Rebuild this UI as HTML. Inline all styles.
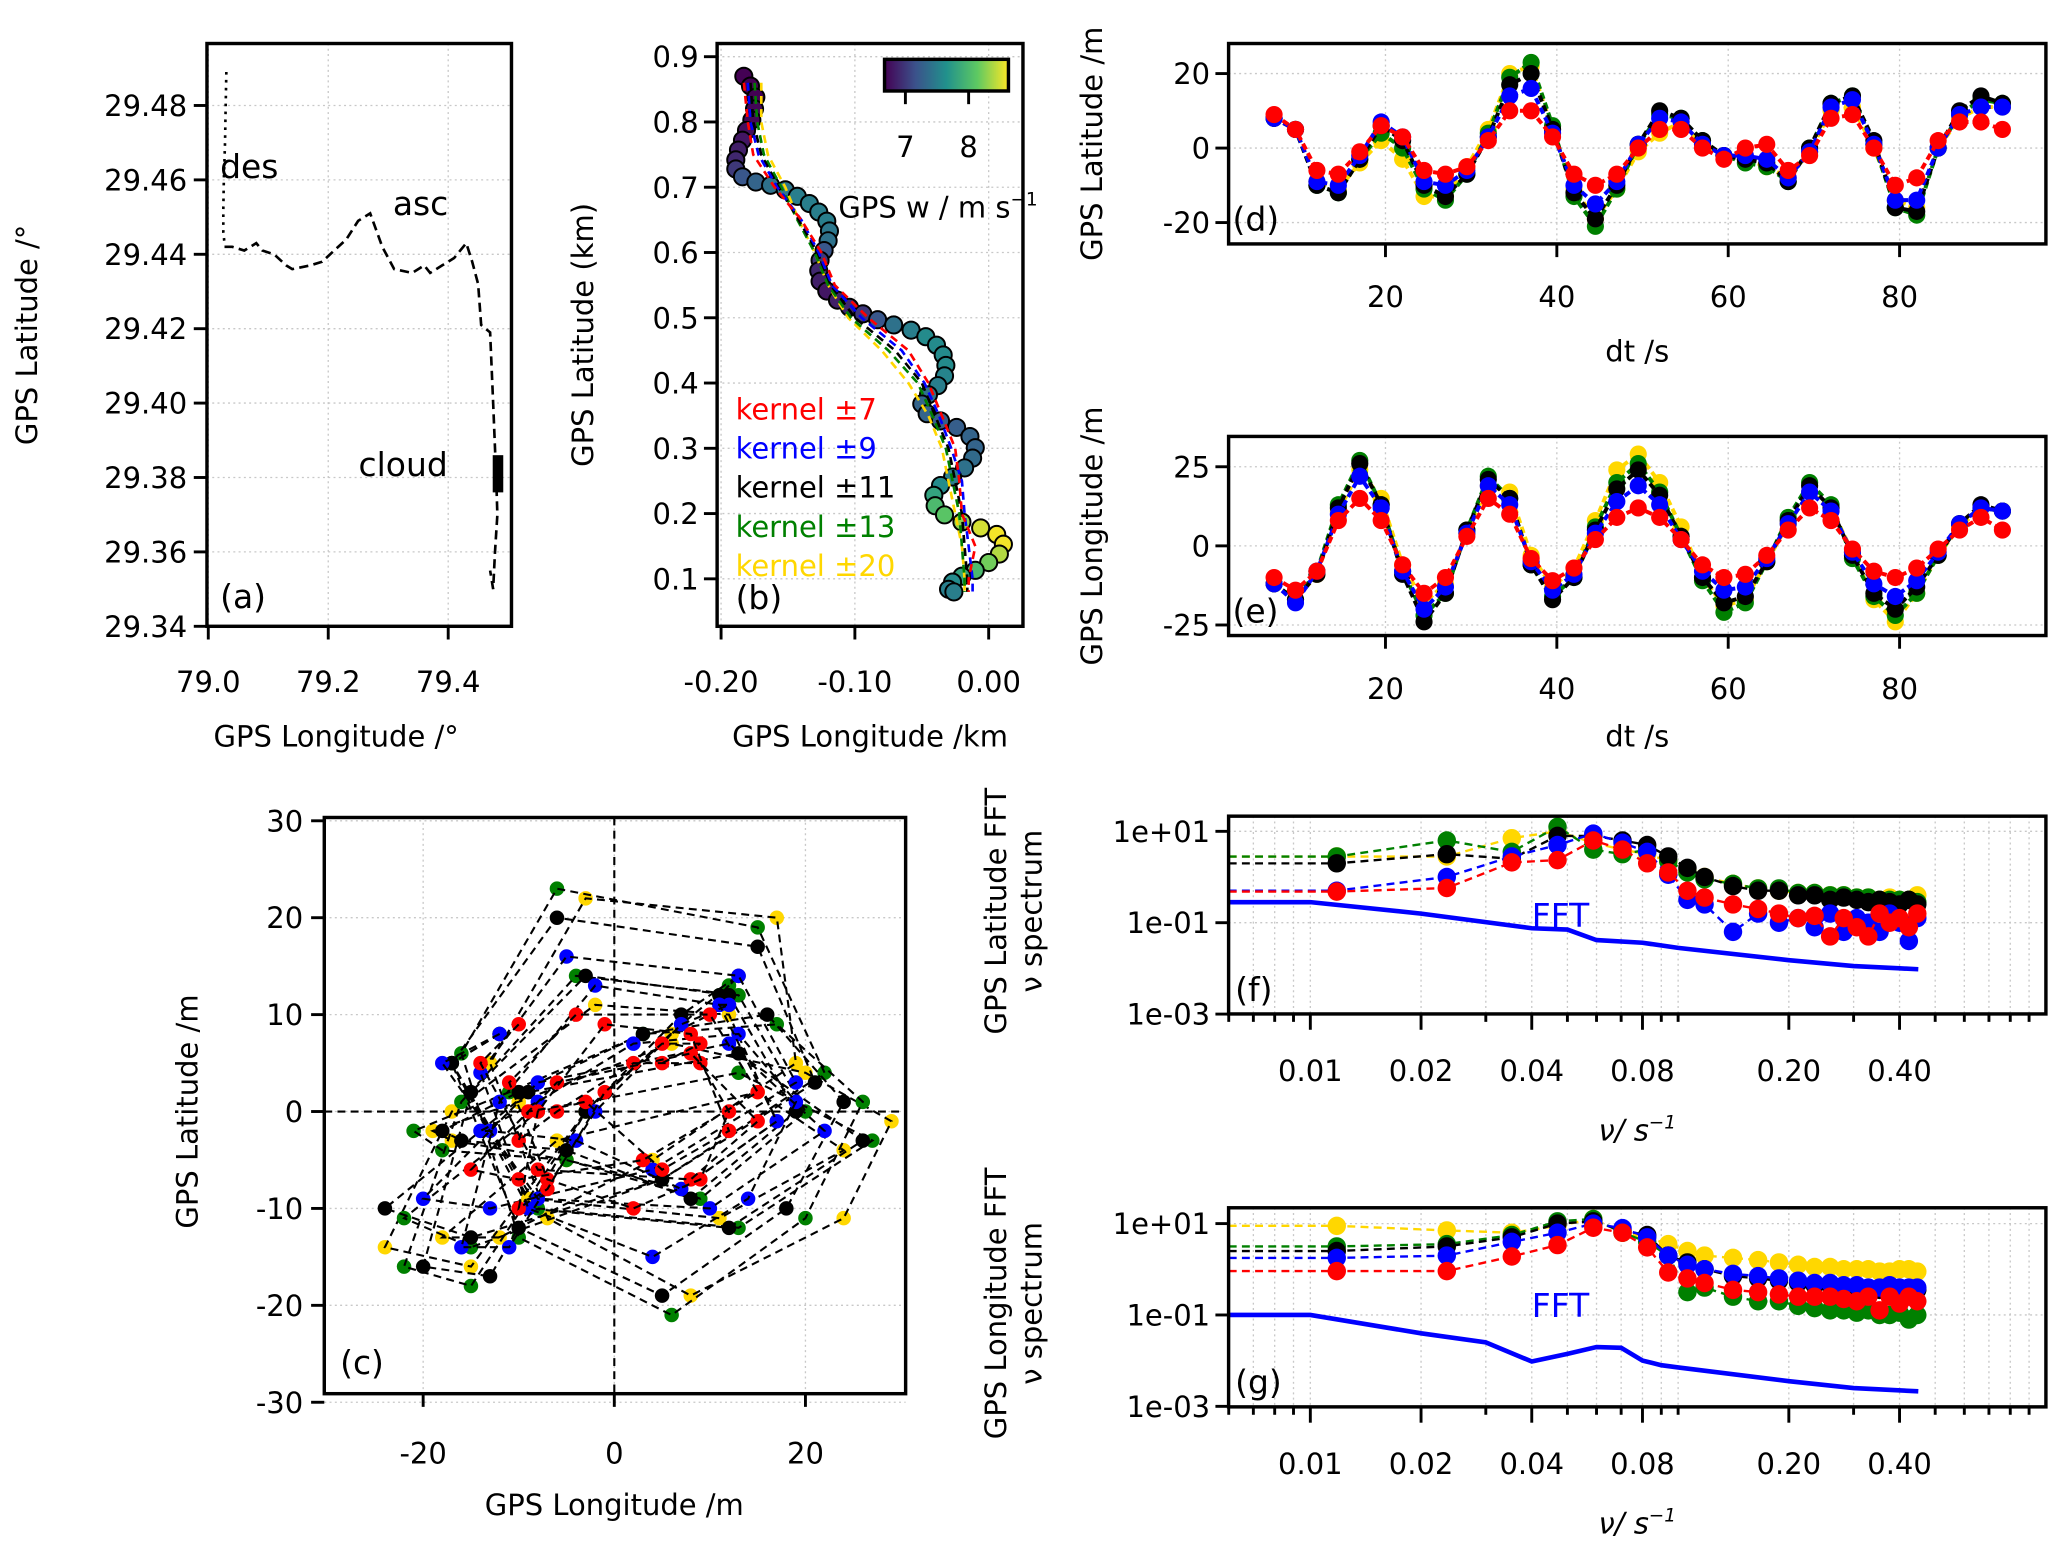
<!DOCTYPE html>
<html><head><meta charset="utf-8"><style>
html,body{margin:0;padding:0;background:#fff;}
svg{display:block;font-family:"DejaVu Sans","Liberation Sans",sans-serif;}
</style></head><body>
<svg id="fig" xmlns="http://www.w3.org/2000/svg" width="2067" height="1544" viewBox="0 0 1568 1171" preserveAspectRatio="none"></svg>
<script>
// ---------- DATA ----------
const timeS=[7,9.5,12,14.5,17,19.5,22,24.5,27,29.5,32,34.5,37,39.5,42,44.5,47,49.5,52,54.5,57,59.5,62,64.5,67,69.5,72,74.5,77,79.5,82,84.5,87,89.5,92];
const latRed=[9,5,-6,-7,-1,6,3,-6,-7,-5,2,10,10,3,-7,-10,-7,0,5,5,0,-3,0,1,-6,-2,8,9,0,-10,-8,2,7,7,5];
const latBlue=[8,5,-9,-10,-2,7,3,-9,-10,-6,3,14,16,4,-10,-15,-9,1,8,7,1,-2,-2,-3,-8,-1,11,13,1,-14,-14,0,9,11,11];
const latBlack=[8,5,-10,-12,-3,6,2,-10,-13,-7,3,17,20,5,-12,-19,-10,1,10,8,2,-2,-3,-4,-9,0,12,14,2,-16,-17,0,10,14,12];
const latGreen=[8,5,-10,-12,-3,4,0,-11,-14,-7,4,19,23,6,-13,-21,-11,1,9,8,2,-2,-4,-5,-9,0,12,14,1,-16,-18,0,9,13,12];
const latYellow=[8,5,-9,-11,-4,2,-3,-13,-13,-5,5,20,22,5,-11,-19,-11,-1,4,7,1,-2,-3,-5,-8,-1,10,11,0,-14,-16,0,8,11,11];
const lonRed=[-10,-14,-8,8,15,8,-6,-15,-10,3,15,10,-4,-11,-7,2,9,12,9,2,-6,-10,-9,-3,5,12,8,-1,-8,-10,-7,-1,5,9,5];
const lonBlue=[-12,-18,-8,10,22,12,-8,-20,-13,4,19,13,-5,-14,-9,4,14,19,13,2,-8,-14,-13,-4,7,17,11,-2,-12,-16,-11,-2,7,12,11];
const lonBlack=[-12,-17,-9,12,26,13,-9,-24,-15,5,21,15,-6,-17,-10,5,18,24,16,3,-10,-18,-16,-5,8,19,12,-3,-15,-20,-13,-3,7,13,11];
const lonGreen=[-12,-17,-8,13,27,13,-8,-22,-15,5,22,15,-6,-16,-10,6,20,26,17,3,-11,-21,-18,-5,9,20,13,-4,-16,-22,-15,-3,7,12,11];
const lonYellow=[-12,-17,-9,11,24,15,-6,-18,-12,4,19,17,-3,-13,-7,8,24,29,20,6,-10,-19,-17,-5,7,17,12,-2,-17,-24,-15,-3,6,12,11];

const freq=[0.0118,0.0235,0.0353,0.047,0.0588,0.0706,0.0824,0.094,0.106,0.118,0.141,0.165,0.188,0.212,0.235,0.259,0.282,0.306,0.329,0.353,0.376,0.4,0.424,0.447];
const fRed=[-0.32,-0.24,0.32,0.37,0.8,0.6,0.3,0.1,-0.3,-0.45,-0.6,-0.7,-0.8,-0.9,-0.85,-1.3,-0.9,-1.1,-1.3,-0.8,-1.0,-0.9,-1.1,-0.8];
const fBlue=[-0.3,0.0,0.45,0.7,0.95,0.75,0.55,0.05,-0.5,-0.6,-1.2,-0.8,-1.0,-0.9,-1.1,-0.8,-1.2,-0.9,-1.0,-1.2,-0.8,-1.0,-1.4,-0.9];
const fBlack=[0.3,0.5,0.4,0.9,0.9,0.8,0.7,0.45,0.2,0.0,-0.2,-0.3,-0.3,-0.4,-0.4,-0.5,-0.45,-0.5,-0.55,-0.5,-0.55,-0.6,-0.5,-0.6];
const fGreen=[0.45,0.8,0.55,1.1,0.6,0.5,0.6,0.35,0.1,-0.05,-0.15,-0.25,-0.25,-0.35,-0.35,-0.4,-0.4,-0.45,-0.45,-0.5,-0.5,-0.5,-0.5,-0.55];
const fYellow=[0.45,0.45,0.85,1.0,0.75,0.6,0.5,0.35,0.15,0.0,-0.15,-0.25,-0.3,-0.35,-0.35,-0.4,-0.4,-0.45,-0.45,-0.5,-0.45,-0.5,-0.5,-0.4];
const fftFreqF=[0.006,0.01,0.02,0.04,0.05,0.06,0.08,0.1,0.2,0.3,0.4,0.45];
const fftValF=[-0.55,-0.55,-0.8,-1.12,-1.15,-1.38,-1.44,-1.55,-1.82,-1.95,-2.0,-2.02];

const gRed=[-0.04,-0.04,0.28,0.53,0.91,0.8,0.48,-0.07,-0.2,-0.3,-0.45,-0.5,-0.55,-0.6,-0.6,-0.6,-0.65,-0.7,-0.6,-0.9,-0.6,-0.75,-0.6,-0.7];
const gBlue=[0.25,0.3,0.6,0.8,1.0,0.9,0.7,0.3,0.1,0.0,-0.1,-0.15,-0.2,-0.25,-0.3,-0.3,-0.35,-0.35,-0.4,-0.4,-0.35,-0.4,-0.4,-0.4];
const gBlack=[0.4,0.5,0.7,1.0,1.05,0.85,0.75,0.3,0.15,0.0,-0.15,-0.2,-0.25,-0.3,-0.35,-0.35,-0.4,-0.4,-0.45,-0.45,-0.45,-0.5,-0.45,-0.45];
const gGreen=[0.5,0.55,0.75,1.05,1.1,0.8,0.6,0.3,-0.5,-0.4,-0.6,-0.7,-0.7,-0.8,-0.85,-0.9,-0.9,-0.95,-0.9,-1.0,-1.0,-0.95,-1.1,-1.0];
const gYellow=[0.95,0.85,0.8,0.95,1.1,0.8,0.7,0.55,0.4,0.3,0.25,0.2,0.15,0.1,0.05,0.05,0.0,0.0,0.0,-0.05,-0.05,0.0,0.0,-0.05];
const fftFreqG=[0.006,0.01,0.02,0.03,0.04,0.05,0.06,0.07,0.08,0.09,0.1,0.2,0.3,0.45];
const fftValG=[-1.0,-1.0,-1.4,-1.6,-2.02,-1.85,-1.7,-1.72,-2.0,-2.1,-2.15,-2.45,-2.6,-2.67];

const trkLon=[-0.183,-0.178,-0.174,-0.175,-0.177,-0.181,-0.184,-0.187,-0.189,-0.189,-0.184,-0.174,-0.163,-0.152,-0.143,-0.134,-0.127,-0.121,-0.119,-0.12,-0.123,-0.126,-0.127,-0.126,-0.121,-0.113,-0.104,-0.094,-0.083,-0.071,-0.058,-0.047,-0.039,-0.034,-0.032,-0.033,-0.038,-0.045,-0.05,-0.046,-0.036,-0.024,-0.014,-0.01,-0.012,-0.018,-0.027,-0.036,-0.041,-0.04,-0.033,-0.02,-0.006,0.006,0.011,0.008,0.0,-0.01,-0.02,-0.027,-0.03,-0.026];
const trkLat=[0.870,0.855,0.838,0.82,0.803,0.787,0.772,0.757,0.742,0.728,0.716,0.708,0.703,0.696,0.686,0.675,0.662,0.648,0.633,0.618,0.603,0.588,0.572,0.556,0.541,0.527,0.516,0.506,0.497,0.489,0.481,0.471,0.458,0.443,0.427,0.411,0.396,0.382,0.368,0.353,0.342,0.332,0.318,0.301,0.285,0.27,0.256,0.243,0.228,0.212,0.198,0.187,0.178,0.168,0.153,0.138,0.125,0.113,0.104,0.095,0.084,0.08];
const trkW=[6.6,6.6,6.65,6.7,6.7,6.75,6.8,6.85,6.9,7.0,7.2,7.3,7.4,7.45,7.5,7.5,7.5,7.5,7.45,7.4,7.2,7.0,6.9,6.85,6.8,6.85,6.9,7.0,7.2,7.4,7.5,7.6,7.6,7.6,7.6,7.55,7.5,7.4,7.3,7.3,7.25,7.25,7.3,7.3,7.35,7.4,7.5,7.6,7.8,8.0,8.1,8.3,8.5,8.6,8.6,8.4,8.2,8.0,7.8,7.6,7.5,7.5];
const kLat=[0.86,0.8,0.75,0.7,0.65,0.6,0.55,0.5,0.45,0.4,0.35,0.3,0.25,0.2,0.15,0.1,0.08];
const kRed=[-0.183,-0.18,-0.176,-0.16,-0.14,-0.125,-0.115,-0.09,-0.06,-0.045,-0.035,-0.025,-0.022,-0.02,-0.01,-0.015,-0.015];
const kBlue=[-0.18,-0.178,-0.172,-0.158,-0.14,-0.127,-0.117,-0.095,-0.065,-0.048,-0.037,-0.028,-0.02,-0.018,-0.015,-0.012,-0.012];
const kBlack=[-0.178,-0.176,-0.17,-0.157,-0.142,-0.128,-0.118,-0.1,-0.07,-0.05,-0.04,-0.03,-0.025,-0.02,-0.018,-0.016,-0.016];
const kGreen=[-0.175,-0.173,-0.168,-0.155,-0.143,-0.13,-0.12,-0.103,-0.075,-0.053,-0.042,-0.032,-0.027,-0.022,-0.02,-0.018,-0.018];
const kYellow=[-0.17,-0.17,-0.165,-0.152,-0.142,-0.13,-0.12,-0.105,-0.08,-0.06,-0.045,-0.035,-0.03,-0.025,-0.02,-0.018,-0.018];

const desLon=[79.03,79.029,79.028,79.026,79.025,79.025,79.027];
const desLat=[29.489,29.480,29.470,29.460,29.452,29.446,29.443];
const ascLon=[79.027,79.04,79.06,79.08,79.09,79.11,79.13,79.14,79.17,79.19,79.21,79.23,79.25,79.27,79.29,79.31,79.34,79.36,79.37,79.39,79.41,79.43,79.44,79.45,79.455,79.47,79.475,79.48,79.482,79.478,79.475,79.47];
const ascLat=[29.442,29.442,29.441,29.443,29.441,29.440,29.437,29.436,29.437,29.438,29.441,29.444,29.449,29.451,29.442,29.436,29.435,29.437,29.435,29.437,29.439,29.443,29.438,29.432,29.421,29.419,29.40,29.38,29.37,29.36,29.35,29.355];
const cloudLat=[29.376,29.386];
const cloudLon=79.483;

const kernelNames=["kernel ±7","kernel ±9","kernel ±11","kernel ±13","kernel ±20"];
const kernelColors=["#ff0000","#0000ff","#000000","#008000","#ffd700"];

// ---------- HELPERS ----------
const svg=document.getElementById('fig');
const NS="http://www.w3.org/2000/svg";
function el(tag,attrs,parent){const e=document.createElementNS(NS,tag);for(const k in attrs)e.setAttribute(k,attrs[k]);(parent||svg).appendChild(e);return e;}
function lin(d0,d1,p0,p1){return v=>p0+(v-d0)*(p1-p0)/(d1-d0);}
function txt(x,y,s,size,anchor,fill,parent,rot){const t=el('text',{x:x,y:y,'font-size':size,'text-anchor':anchor||'middle',fill:fill||'#000'},parent);if(rot)t.setAttribute('transform','rotate(-90 '+x+' '+y+')');t.textContent=s;return t;}
function frame(g,x0,y0,x1,y1){const r=el('rect',{x:x0,y:y0,width:x1-x0,height:y1-y0,fill:'none',stroke:'#000','stroke-width':2.6},g);}
function gridV(g,x,y0,y1){el('line',{x1:x,x2:x,y1:y0,y2:y1,stroke:'#c8c8c8','stroke-width':1,'stroke-dasharray':'1.5,2.5'},g);}
function gridH(g,y,x0,x1){el('line',{x1:x0,x2:x1,y1:y,y2:y,stroke:'#c8c8c8','stroke-width':1,'stroke-dasharray':'1.5,2.5'},g);}
function tickX(g,x,y,len){el('line',{x1:x,x2:x,y1:y,y2:y+len,stroke:'#000','stroke-width':2.2},g);}
function tickY(g,x,y,len){el('line',{x1:x-len,x2:x,y1:y,y2:y,stroke:'#000','stroke-width':2.2},g);}
function path(g,xs,ys,sx,sy,col,w,dash){let d='';for(let i=0;i<xs.length;i++)d+=(i?'L':'M')+sx(xs[i]).toFixed(1)+','+sy(ys[i]).toFixed(1);return el('path',{d:d,fill:'none',stroke:col,'stroke-width':w,'stroke-dasharray':dash||'none'},g);}
function viridis(v){const st=['#440154','#3b528b','#21918c','#5ec962','#fde725'];const t=Math.max(0,Math.min(1,(v-6.67)/(8.63-6.67)))*4;const i=Math.min(3,Math.floor(t));const f=t-i;const a=st[i],b=st[i+1];const c=k=>Math.round(parseInt(a.substr(k,2),16)*(1-f)+parseInt(b.substr(k,2),16)*f);return 'rgb('+c(1)+','+c(3)+','+c(5)+')';}
const FS=22;

// ---------- PANEL A ----------
(function(){
const g=el('g',{});
const X0=157,X1=388,Y0=33,Y1=475;
const sx=lin(79.0,79.2,158,249),sy=lin(29.34,29.48,475,80);
const yt=[29.34,29.36,29.38,29.40,29.42,29.44,29.46,29.48],xt=[79.0,79.2,79.4];
yt.forEach(v=>{gridH(g,sy(v),X0,X1);tickY(g,X0,sy(v),10);txt(142,sy(v)+8,v.toFixed(2),FS,'end',null,g);});
xt.forEach(v=>{gridV(g,sx(v),Y0,Y1);tickX(g,sx(v),Y1,10);txt(sx(v),525,v.toFixed(1),FS,'middle',null,g);});
const p1=path(g,desLon,desLat,sx,sy,'#000',2,'2,4');
const p2=path(g,ascLon,ascLat,sx,sy,'#000',2,'7,4');
const c=el('rect',{x:sx(cloudLon)-4,y:sy(cloudLat[1]),width:8,height:sy(cloudLat[0])-sy(cloudLat[1]),fill:'#000'},g);

txt(167,135,'des',25,'start',null,g);txt(298,163,'asc',25,'start',null,g);txt(272,361,'cloud',25,'start',null,g);txt(167,461,'(a)',25,'start',null,g);
frame(g,X0,Y0,X1,Y1);
const yl=txt(28,254,'GPS Latitude /°',FS,'middle',null,g,true);
const xl=txt(255,566,'GPS Longitude /°',FS,'middle',null,g);
})();

// ---------- PANEL B ----------
(function(){
const g=el('g',{});
const X0=544,X1=776,Y0=33,Y1=475;
const sx=lin(-0.2,0,547,750),sy=lin(0.1,0.9,439,43);
[0.1,0.2,0.3,0.4,0.5,0.6,0.7,0.8,0.9].forEach(v=>{gridH(g,sy(v),X0,X1);tickY(g,X0,sy(v),10);txt(530,sy(v)+8,v.toFixed(1),FS,'end',null,g);});
[-0.2,-0.1,0].forEach(v=>{gridV(g,sx(v),Y0,Y1);tickX(g,sx(v),Y1,10);txt(sx(v),525,v.toFixed(2),FS,'middle',null,g);});
for(let i=0;i<trkLon.length;i++){const c=el('circle',{cx:sx(trkLon[i]),cy:sy(trkLat[i]),r:6.5,fill:viridis(trkW[i]),stroke:'#000','stroke-width':1.5},g);
}
const ks=[kYellow,kGreen,kBlack,kBlue,kRed],kc=[4,3,2,1,0];
ks.forEach((k,j)=>{const p=path(g,k,kLat,sx,sy,kernelColors[kc[j]],2,'6,4');});
const defs=el('defs',{});const lg=el('linearGradient',{id:'vir',x1:0,x2:1,y1:0,y2:0},defs);
['#440154','#3b528b','#21918c','#5ec962','#fde725'].forEach((c,i)=>el('stop',{offset:(i*25)+'%','stop-color':c},lg));
const cb=el('rect',{x:671,y:45,width:94,height:24,fill:'url(#vir)',stroke:'#000','stroke-width':2.6},g);
const cs=lin(6.67,8.63,671,765);
[7,8].forEach(v=>{tickX(g,cs(v),69,10);txt(cs(v),119,String(v),FS,'middle',null,g);});
const cl=txt(636,165,'GPS w / m s',FS,'start',null,g);
const sup=el('tspan',{dy:-9,'font-size':14},cl);sup.textContent='−1';
kernelNames.forEach((n,i)=>{const t=txt(558,318+i*29.7,n,FS,'start',kernelColors[i],g);});
txt(558,462,'(b)',25,'start',null,g);
frame(g,X0,Y0,X1,Y1);
const yl=txt(450,254,'GPS Latitude (km)',FS,'middle',null,g,true);
const xl=txt(660,566,'GPS Longitude /km',FS,'middle',null,g);
})();

// ---------- TIME SERIES D/E ----------
function timePanel(name,Y0,Y1,sy,yt,series,label,ylab,xlabY){
const g=el('g',{});
const X0=932,X1=1552;const sx=lin(0,20,921,1051);
yt.forEach(v=>{gridH(g,sy(v),X0,X1);tickY(g,X0,sy(v),10);txt(918,sy(v)+8,String(v),FS,'end',null,g);});
[20,40,60,80].forEach(v=>{gridV(g,sx(v),Y0,Y1);tickX(g,sx(v),Y1,10);txt(sx(v),Y1+48,String(v),FS,'middle',null,g);});
const order=[4,3,2,1,0];
order.forEach(k=>{const s=series[k];
const p=path(g,timeS,s,sx,sy,kernelColors[k],3,'5,3');
for(let i=0;i<timeS.length;i++){const c=el('circle',{cx:sx(timeS[i]),cy:sy(s[i]),r:6.5,fill:kernelColors[k]},g);}
});
txt(935,Y1-10,label,25,'start',null,g);
frame(g,X0,Y0,X1,Y1);
const yl=txt(836,(Y0+Y1)/2,ylab,FS,'middle',null,g,true);
const xl=txt(1242,xlabY,'dt /s',FS,'middle',null,g);
}
timePanel('panel-d',33,185,lin(0,20,112.3,55.8),[20,0,-20],[latRed,latBlue,latBlack,latGreen,latYellow],'(d)','GPS Latitude /m',274);
timePanel('panel-e',331,482,lin(0,25,414,354),[25,0,-25],[lonRed,lonBlue,lonBlack,lonGreen,lonYellow],'(e)','GPS Longitude /m',566);

// ---------- PANEL C ----------
(function(){
const g=el('g',{});
const X0=246,X1=687,Y0=620,Y1=1057;
const sx=lin(0,20,466,611),sy=lin(0,10,843,769.5);
[30,20,10,0,-10,-20,-30].forEach(v=>{gridH(g,sy(v),X0,X1);tickY(g,X0,sy(v),10);txt(230,sy(v)+8,String(v),FS,'end',null,g);});
[-20,0,20].forEach(v=>{gridV(g,sx(v),Y0,Y1);tickX(g,sx(v),Y1,10);txt(sx(v),1110,String(v),FS,'middle',null,g);});
el('line',{x1:sx(0),x2:sx(0),y1:Y0,y2:Y1,stroke:'#000','stroke-width':1.6,'stroke-dasharray':'6,4'},g);
el('line',{x1:X0,x2:X1,y1:sy(0),y2:sy(0),stroke:'#000','stroke-width':1.6,'stroke-dasharray':'6,4'},g);
const la=[latRed,latBlue,latBlack,latGreen,latYellow],lo=[lonRed,lonBlue,lonBlack,lonGreen,lonYellow];
const clip=el('clipPath',{id:'clipc'},svg);el('rect',{x:X0,y:Y0,width:X1-X0,height:Y1-Y0},clip);
const gc=el('g',{'clip-path':'url(#clipc)'},g);
[4,3,2,1,0].forEach(k=>{
for(let i=0;i<timeS.length;i++){const c=el('circle',{cx:sx(lo[k][i]),cy:sy(la[k][i]),r:5.5,fill:kernelColors[k]},gc);}
const p=path(gc,lo[k],la[k],sx,sy,'#000',1.6,'6,4');});
txt(258,1042,'(c)',25,'start',null,g);
frame(g,X0,Y0,X1,Y1);
const yl=txt(150,843,'GPS Latitude /m',FS,'middle',null,g,true);
const xl=txt(466,1149,'GPS Longitude /m',FS,'middle',null,g);
})();

// ---------- SPECTRA F/G ----------
function specPanel(name,Y0,Y1,top,series,fF,fV,label,ylab1,fftY){
const g=el('g',{});
const X0=932,X1=1552;
const sx=v=>994+279*Math.log10(v/0.01);const sy=lin(1,-1,top,top+69.3);
const minor=[0.006,0.007,0.008,0.009,0.03,0.05,0.06,0.07,0.09,0.1,0.3,0.5,0.6,0.7,0.8,0.9];
const major=[0.01,0.02,0.04,0.08,0.2,0.4],majL=['0.01','0.02','0.04','0.08','0.20','0.40'];
minor.forEach(v=>{gridV(g,sx(v),Y0,Y1);tickX(g,sx(v),Y1,6);});
major.forEach((v,i)=>{gridV(g,sx(v),Y0,Y1);tickX(g,sx(v),Y1,12);txt(sx(v),Y1+51,majL[i],FS,'middle',null,g);});
[1,-1,-3].forEach((v,i)=>{gridH(g,sy(v),X0,X1);tickY(g,X0,sy(v),10);txt(918,sy(v)+8,['1e+01','1e-01','1e-03'][i],FS,'end',null,g);});
const clip=el('clipPath',{id:'clip'+name},svg);el('rect',{x:X0,y:Y0,width:X1-X0,height:Y1-Y0},clip);
const gc=el('g',{'clip-path':'url(#clip'+name+')'},g);
[4,3,2,1,0].forEach(k=>{const s=series[k];
for(let i=0;i<freq.length;i++){const c=el('circle',{cx:sx(freq[i]),cy:sy(s[i]),r:7,fill:kernelColors[k]},gc);}
const p=path(gc,[0.006].concat(freq),[s[0]].concat(s),sx,sy,kernelColors[k],1.8,'6,4');});
const fp=path(gc,fF,fV,sx,sy,'#0000ff',3.5);
txt(1162,fftY,'FFT',25,'start','#0000ff',g);
txt(937,Y1-10,label,25,'start',null,g);
frame(g,X0,Y0,X1,Y1);
const y1=txt(763,(Y0+Y1)/2-3,ylab1,FS,'middle',null,g,true);
const y2=txt(790,(Y0+Y1)/2-3,'ν spectrum',FS,'middle',null,g,true);
const xl=txt(1242,Y1+96,'ν/ s',FS,'middle',null,g);xl.setAttribute('font-style','italic');
const sp=el('tspan',{dy:-9,'font-size':14},xl);sp.textContent='−1';
}
specPanel('panel-f',619,769,630.5,[fRed,fBlue,fBlack,fGreen,fYellow],fftFreqF,fftValF,'(f)','GPS Latitude FFT',703);
specPanel('panel-g',916,1067,928,[gRed,gBlue,gBlack,gGreen,gYellow],fftFreqG,fftValG,'(g)','GPS Longitude FFT',999);
</script>
</body></html>
